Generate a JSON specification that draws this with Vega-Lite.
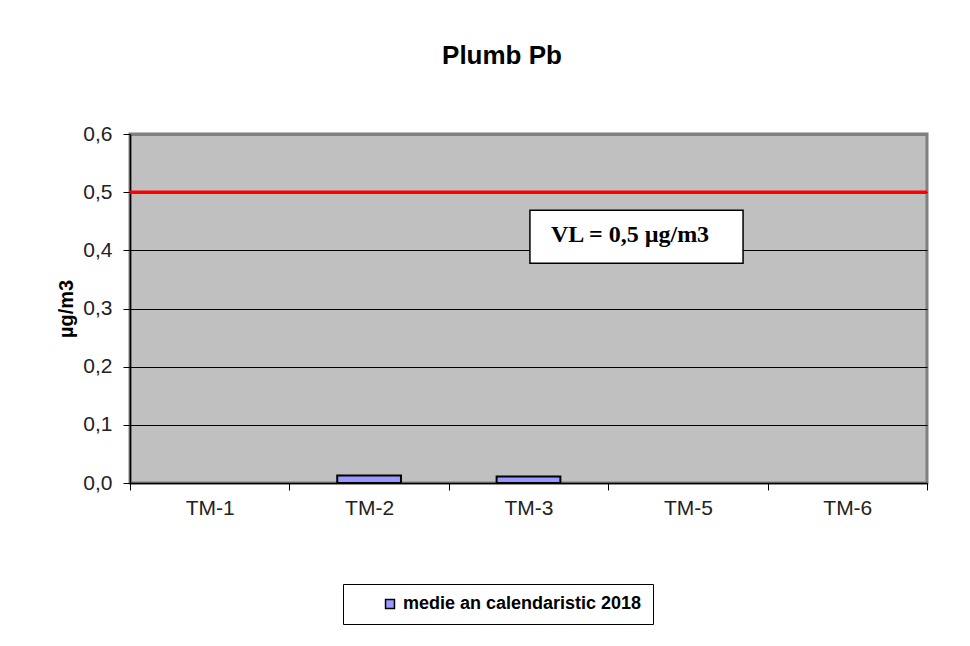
{
  "$schema": "https://vega.github.io/schema/vega-lite/v6.json",
  "width": 797,
  "height": 349,
  "autosize": "none",
  "padding": {"left": 130, "top": 134, "right": 43, "bottom": 163},
  "background": "white",
  "title": {
    "text": "Plumb Pb",
    "font": "Liberation Sans",
    "fontSize": 26,
    "fontWeight": "bold",
    "color": "black",
    "anchor": "middle",
    "frame": "group",
    "dx": -26.5,
    "offset": 54
  },
  "config": {
    "view": {"fill": "#C0C0C0", "stroke": "#808080", "strokeWidth": 3},
    "axis": {
      "labelFont": "Liberation Sans",
      "labelFontSize": 21,
      "labelColor": "#222222",
      "titleFont": "Liberation Sans",
      "domainColor": "black",
      "domainWidth": 1.5,
      "tickColor": "black",
      "tickSize": 7
    }
  },
  "layer": [
    {
      "data": {
        "values": [
          {"station": "TM-1", "value": null, "series": "medie an calendaristic 2018"},
          {"station": "TM-2", "value": 0.013, "series": "medie an calendaristic 2018"},
          {"station": "TM-3", "value": 0.011, "series": "medie an calendaristic 2018"},
          {"station": "TM-5", "value": null, "series": "medie an calendaristic 2018"},
          {"station": "TM-6", "value": null, "series": "medie an calendaristic 2018"}
        ]
      },
      "mark": {"type": "bar", "width": {"band": 0.4}, "stroke": "black", "strokeWidth": 2},
      "encoding": {
        "x": {
          "field": "station",
          "type": "nominal",
          "sort": null,
          "scale": {"domain": ["TM-1", "TM-2", "TM-3", "TM-5", "TM-6"], "paddingInner": 0, "paddingOuter": 0},
          "axis": {"title": null, "labelAngle": 0, "tickBand": "extent", "labelPadding": 7, "grid": false}
        },
        "y": {
          "field": "value",
          "type": "quantitative",
          "scale": {"domain": [0, 0.6], "nice": false, "zero": true},
          "axis": {
            "title": "µg/m3",
            "titleFontSize": 20,
            "titleFontWeight": "bold",
            "titleColor": "black",
            "titlePadding": 6,
            "values": [0, 0.1, 0.2, 0.3, 0.4, 0.5, 0.6],
            "labelExpr": "replace(format(datum.value, '.1f'), '.', ',')",
            "labelPadding": 11,
            "grid": true,
            "gridColor": {"condition": {"test": "datum.value >= 0.6", "value": "#808080"}, "value": "black"},
            "gridWidth": {"condition": {"test": "datum.value >= 0.6", "value": 3}, "value": 1},
            "gridOpacity": 1
          }
        },
        "color": {
          "field": "series",
          "type": "nominal",
          "scale": {"range": ["#9999FF"]},
          "legend": {
            "title": null,
            "orient": "none",
            "legendX": 213,
            "legendY": 450,
            "direction": "horizontal",
            "strokeColor": "black",
            "fillColor": "white",
            "padding": 11,
            "symbolType": "square",
            "symbolSize": 80,
            "symbolStrokeColor": "black",
            "symbolStrokeWidth": 1.5,
            "symbolOffset": 27,
            "labelOffset": 4,
            "labelFont": "Liberation Sans",
            "labelFontSize": 18,
            "labelFontWeight": "bold",
            "labelColor": "black",
            "labelLimit": 400,
            "labelExpr": "datum.label + '\u00a0\u00a0'"
          }
        }
      }
    },
    {
      "data": {"values": [{"limit": 0.5}]},
      "mark": {"type": "rule", "color": "#FF0000", "strokeWidth": 3.5},
      "encoding": {"y": {"field": "limit", "type": "quantitative"}}
    },
    {
      "data": {"values": [{"x1": 2.509, "x2": 3.846, "y1": 0.378, "y2": 0.469, "tx": 3.137, "ty": 0.426, "label": "VL = 0,5 µg/m3"}]},
      "layer": [
        {
          "mark": {"type": "rect", "fill": "white", "stroke": "black", "strokeWidth": 1.5},
          "encoding": {
            "x": {"field": "x1", "type": "quantitative", "scale": {"domain": [0, 5], "nice": false, "zero": false}, "axis": null},
            "x2": {"field": "x2"},
            "y": {"field": "y1", "type": "quantitative"},
            "y2": {"field": "y2"}
          }
        },
        {
          "mark": {"type": "text", "font": "Liberation Serif", "fontSize": 24, "fontWeight": "bold", "color": "black", "align": "center", "baseline": "middle"},
          "encoding": {
            "x": {"field": "tx", "type": "quantitative", "scale": {"domain": [0, 5], "nice": false, "zero": false}, "axis": null},
            "y": {"field": "ty", "type": "quantitative"},
            "text": {"field": "label"}
          }
        }
      ]
    }
  ],
  "resolve": {"scale": {"x": "independent"}}
}
